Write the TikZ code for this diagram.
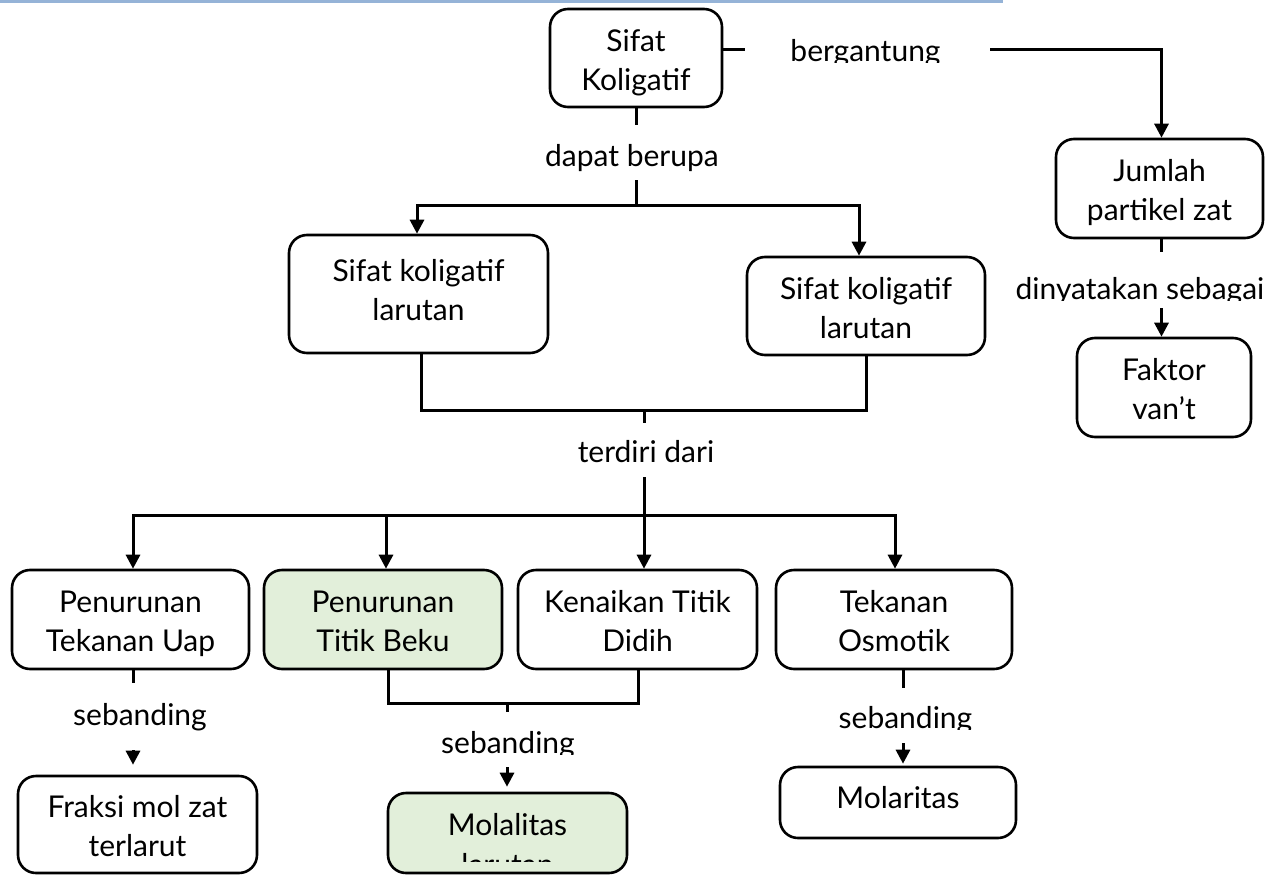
\documentclass[tikz,border=0pt]{standalone}
\usepackage{fontspec}
\setmainfont{Lato}
\usetikzlibrary{arrows.meta}
\definecolor{topblue}{HTML}{95B3D7}
\definecolor{lightgreen}{HTML}{E2EFDA}
\newcommand{\boxlines}[3]{\rule{0pt}{#1}#2\\#3\rule[-8pt]{0pt}{8pt}}
\tikzset{
  box/.style={draw=black, line width=2.6pt, rounded corners=18pt, align=center,
    font=\fontsize{30}{39}\selectfont, inner sep=0pt, fill=white},
  greenbox/.style={box, fill=lightgreen},
  lbl/.style={font=\fontsize{30}{39}\selectfont, inner sep=0pt},
  conn/.style={line width=3pt},
  arr/.style={conn, -{Triangle[length=14pt,width=14pt]}},
}
\begin{document}
\begin{tikzpicture}[x=1pt,y=-1pt]
\useasboundingbox (0,0) rectangle (1285,875);
\draw[topblue, line width=3pt] (0,1.5) -- (1003,1.5);

% boxes
\node[box, minimum width=172pt, minimum height=98pt] (SK) at (636,58) {\boxlines{33pt}{Sifat}{Koligatif}};
\node[box, minimum width=207pt, minimum height=99pt] (JP) at (1159.5,188.5) {\boxlines{33pt}{Jumlah}{partikel zat}};
\node[box, minimum width=174pt, minimum height=99pt] (FV) at (1164,387.5) {\boxlines{33pt}{Faktor}{van't}};
\node[box, minimum width=259pt, minimum height=118pt] (L) at (418.5,294) {\boxlines{0pt}{Sifat koligatif}{larutan}};
\node[box, minimum width=238pt, minimum height=98pt] (R) at (866,306) {\boxlines{33pt}{Sifat koligatif}{larutan}};
\node[box, minimum width=237pt, minimum height=99pt] (PTU) at (130.5,619.5) {\boxlines{33pt}{Penurunan}{Tekanan Uap}};
\node[greenbox, minimum width=238pt, minimum height=99pt] (PTB) at (383,619.5) {\boxlines{33pt}{Penurunan}{Titik Beku}};
\node[box, minimum width=239pt, minimum height=99pt] (KTD) at (637.5,619.5) {\boxlines{33pt}{Kenaikan Titik}{Didih}};
\node[box, minimum width=236pt, minimum height=99pt] (TO) at (894,619.5) {\boxlines{33pt}{Tekanan}{Osmotik}};
\node[box, minimum width=239pt, minimum height=97pt] (FM) at (137.5,824.5) {\boxlines{33pt}{Fraksi mol zat}{terlarut}};
\node[box, minimum width=236pt, minimum height=71pt] (MR) at (898,802.5) {Molaritas\rule[-10pt]{0pt}{10pt}};
\node[greenbox, minimum width=239pt, minimum height=80pt] (ML) at (507.5,833) {};
\begin{scope}
  \clip (390,796) rectangle (625,861);
  \node[lbl, anchor=base] (MLa) at (507.5,835) {Molalitas};
  \node[lbl, anchor=base] (MLb) at (507.5,875) {larutan};
\end{scope}

% labels
\begin{scope}
  \clip (760,30) rectangle (975,63);
  \node[lbl, anchor=base] (BG) at (865.5,62) {bergantung};
\end{scope}
\node[lbl, anchor=base] (DB) at (632,166) {dapat berupa};
\node[lbl, anchor=base] (TD) at (646,462) {terdiri dari};
\begin{scope}
  \clip (990,260) rectangle (1285,300);
  \node[lbl, anchor=base] (DS) at (1140,299) {dinyatakan sebagai};
\end{scope}
\node[lbl, anchor=base] (SB1) at (140,725) {sebanding};
\begin{scope}
  \clip (420,720) rectangle (600,754);
  \node[lbl, anchor=base] (SB2) at (508,753) {sebanding};
\end{scope}
\begin{scope}
  \clip (820,695) rectangle (1000,729);
  \node[lbl, anchor=base] (SB3) at (905.5,728) {sebanding};
\end{scope}

% connectors: top
\coordinate (b1) at (745,50);
\coordinate (b2) at (990,50);
\draw[conn] ([yshift=8pt]SK.east) -- (b1);
\draw[arr] (b2) -| ([xshift=2pt]JP.north);

\coordinate (d1) at (636,125);
\coordinate (d2) at (636,180);
\coordinate (J1) at (636,205);
\draw[conn] (SK.south) -- (d1);
\draw[conn] (d2) -- (J1);
\draw[arr] (J1) -| ([xshift=-1.5pt]L.north);
\draw[arr] (J1) -| ([xshift=-7pt]R.north);

\coordinate (J2) at (644,410);
\draw[conn] ([xshift=3pt]L.south) |- (J2) -| (R.south);
\coordinate (t1) at (644,423);
\draw[conn] (J2) -- (t1);
\coordinate (t2) at (644,477);
\coordinate (J3) at (644,515);
\draw[conn] (t2) -- (J3);
\draw[arr] (J3) -| ([xshift=2.5pt]PTU.north);
\draw[arr] (J3) -| ([xshift=3pt]PTB.north);
\draw[arr] (J3) -- (J3 |- KTD.north);
\draw[arr] (J3) -| ([xshift=1pt]TO.north);

% right column
\coordinate (j1) at (1161.5,252);
\draw[conn] ([xshift=2pt]JP.south) -- (j1);
\coordinate (j2) at (1161.5,308);
\draw[arr] (j2) -- (j2 |- FV.north);

% bottom row
\coordinate (u1) at (133,683);
\draw[conn] ([xshift=2.5pt]PTU.south) -- (u1);
\coordinate (u2) at (133,750);
\draw[arr, shorten >=10pt] (u2) -- (u2 |- FM.north);

\coordinate (J4) at (507,703);
\draw[conn] ([xshift=5pt]PTB.south) |- (J4) -| ([xshift=0.5pt]KTD.south);
\coordinate (m1) at (507,712);
\draw[conn] (J4) -- (m1);
\coordinate (m2) at (507,767);
\draw[arr, shorten >=5pt] (m2) -- (m2 |- ML.north);

\coordinate (o1) at (903,688);
\draw[conn] ([xshift=9pt]TO.south) -- (o1);
\coordinate (o2) at (903,743);
\draw[arr, shorten >=2pt] (o2) -- (o2 |- MR.north);
\end{tikzpicture}
\end{document}
